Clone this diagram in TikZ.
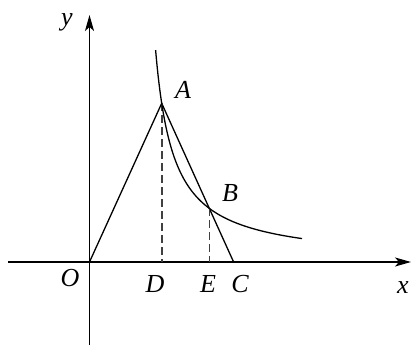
\documentclass[tikz,border=0pt]{standalone}
\usepackage{fontspec}
\setmainfont{Liberation Serif}
\usetikzlibrary{arrows.meta}
\begin{document}
\begin{tikzpicture}[x=1pt,y=1pt,
  axis/.style={line width=1.3pt,-{Stealth[length=16pt,width=9pt,inset=4pt]}},
  seg/.style={line width=1.3pt},
  dsh/.style={line width=1.6pt,dash pattern=on 8pt off 4pt,black!75},
  lab/.style={font=\fontsize{26}{26}\selectfont\itshape,inner sep=0pt}]
\useasboundingbox (0,0) rectangle (414,351);
\coordinate (O) at (89.5,89);
\coordinate (A) at (161.7,247.7);
\coordinate (B) at (209.3,142.7);
\coordinate (C) at (233.6,89);
\coordinate (D) at (161.7,89);
\coordinate (E) at (209.3,89);
\coordinate (xs) at (8,89);
\coordinate (xe) at (411,89);
\coordinate (ys) at (89.5,6);
\coordinate (ye) at (89.5,336);
\draw[axis] (xs) -- (xe);
\draw[axis] (ys) -- (ye);
\draw[seg] (O) -- (A) -- (C);
\draw[dsh] (A) -- (D);
\draw[dsh] (B) -- (E);
\draw[seg,domain=155.6:302,samples=120,smooth] plot (\x,{89+3857/(\x-137.4)});
\node[lab] (ly) at (67,329) {y};
\node[lab] (lx) at (403,63) {x};
\node[lab] (lO) at (70,73) {O};
\node[lab] (lD) at (155,67) {D};
\node[lab] (lE) at (208,67) {E};
\node[lab] (lC) at (240,67) {C};
\node[lab] (lA) at (183,261) {A};
\node[lab] (lB) at (230,158) {B};
\end{tikzpicture}
\end{document}
